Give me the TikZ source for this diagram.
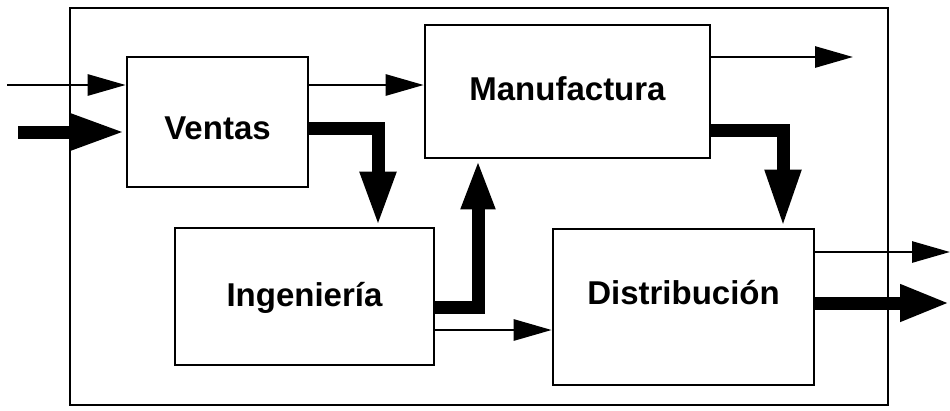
\documentclass[tikz,border=0pt]{standalone}
\usepackage{fontspec}
\setmainfont{Liberation Sans}
\usetikzlibrary{arrows.meta}
\begin{document}
\begin{tikzpicture}[x=1pt,y=-1pt,
  box/.style={draw,line width=2.6pt,inner sep=0pt},
  lbl/.style={font=\fontsize{33}{36}\selectfont\bfseries,inner sep=0pt},
  thin/.style={line width=2.8pt,-{Triangle[length=38pt,width=21pt]}},
  thick/.style={line width=13pt,-{Triangle[length=55pt,width=33pt]}},
  frame/.style={draw,line width=2pt}]
\useasboundingbox (0,0) rectangle (950,410);
\draw[frame] (70,8) rectangle (888,405);
\node[box,minimum width=181pt,minimum height=130pt,
  label={[lbl,yshift=-6pt]center:Ventas}] (ventas) at (217.5,122) {};
\node[box,minimum width=285pt,minimum height=133pt,
  label={[lbl,yshift=3pt]center:Manufactura}] (manuf) at (567.5,91.5) {};
\node[box,minimum width=259pt,minimum height=137pt,
  label={[lbl,yshift=-1pt]center:Ingeniería}] (ingen) at (304.5,296.5) {};
\node[box,minimum width=261pt,minimum height=156pt,
  label={[lbl,yshift=14pt]center:Distribución}] (distrib) at (683.5,307) {};
% free ends
\coordinate (in1) at (7,85);
\coordinate (in2) at (18,132);
\coordinate (out1) at (853,57);
\coordinate (out2) at (950,252);
\coordinate (out3) at (950,303);
% inputs
\draw[thin] (in1) -- (in1 -| ventas.west);
\draw[thick] (in2) -- (in2 -| ventas.west);
% Ventas -> Manufactura
\coordinate (v1) at ([yshift=37pt]ventas.east);
\draw[thin] (v1) -- (v1 -| manuf.west);
% Ventas -> Ingenieria
\draw[thick] ([yshift=-6pt]ventas.east) -| ([xshift=73.5pt]ingen.north);
% Ingenieria -> Manufactura
\draw[thick,-{Triangle[length=50pt,width=31pt]}] ([yshift=-10.5pt]ingen.east) -| ([xshift=-89.5pt]manuf.south);
% Ingenieria -> Distribucion
\coordinate (i2) at ([yshift=-33.5pt]ingen.east);
\draw[thin] (i2) -- (i2 -| distrib.west);
% Manufactura outputs
\draw[thin] (out1 -| manuf.east) -- (out1);
\draw[thick,-{Triangle[length=58pt,width=33pt]}] ([yshift=-38.5pt]manuf.east) -| ([xshift=99.5pt]distrib.north);
% Distribucion outputs
\draw[thin] (out2 -| distrib.east) -- (out2);
\draw[thick,-{Triangle[length=50pt,width=34pt]}] (out3 -| distrib.east) -- (out3);
\end{tikzpicture}
\end{document}
